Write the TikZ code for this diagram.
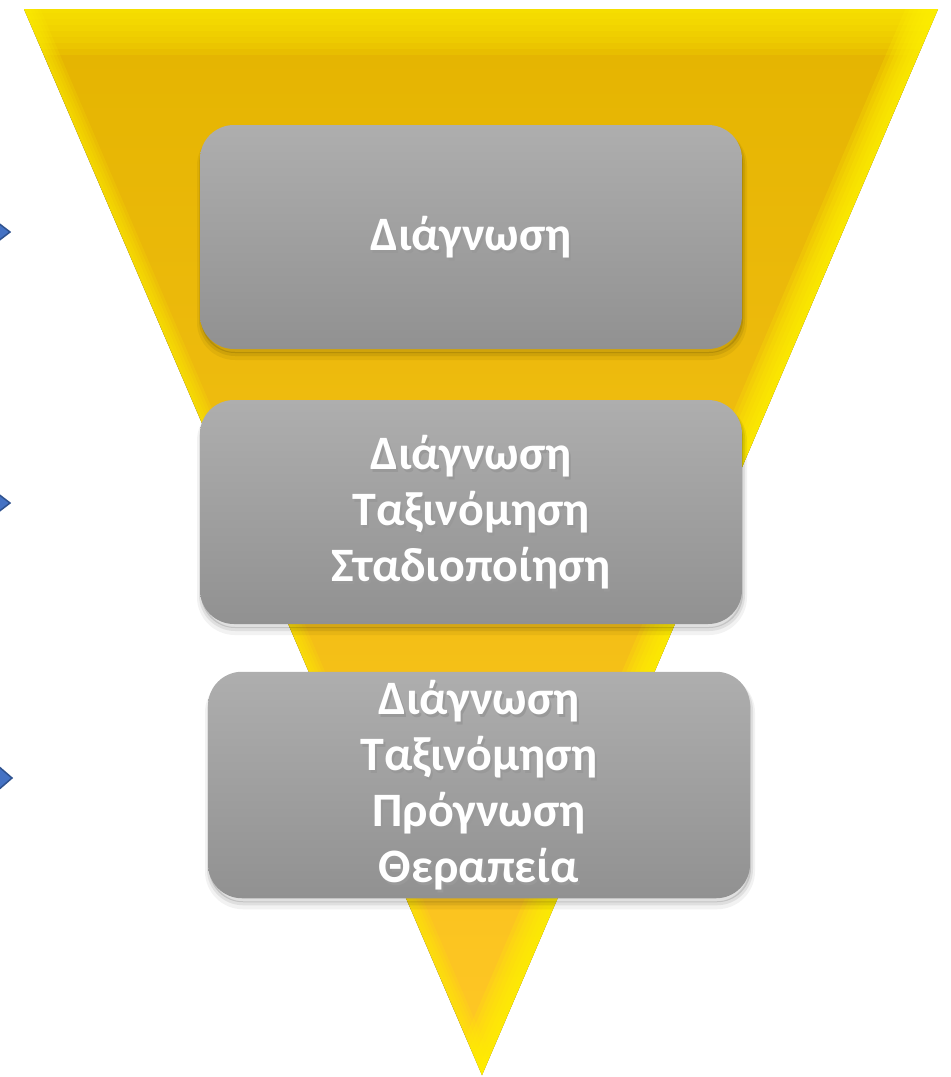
\documentclass[tikz,border=0pt]{standalone}
\usepackage{fontspec}
\newfontfamily\boxfont{Carlito}
\usepackage{tikz}
\usetikzlibrary{calc}

\definecolor{goldtop}{RGB}{228,180,0}
\definecolor{goldmid}{RGB}{247,193,0}
\definecolor{goldlow}{RGB}{255,199,38}
\definecolor{boxtop}{RGB}{174,174,174}
\definecolor{boxlow}{RGB}{145,145,145}
\definecolor{tipfill}{RGB}{68,114,196}
\definecolor{tipline}{RGB}{47,82,143}

\newcommand\boxlines[1]{\raisebox{-4pt}[\height][\depth]{%
  \rlap{\kern2pt\raisebox{-2.5pt}{\color{black!40}\begin{tabular}{@{}c@{}}#1\end{tabular}}}%
  \begin{tabular}{@{}c@{}}#1\end{tabular}}}

\begin{document}
\begin{tikzpicture}[x=1pt, y=-1pt,
    stage/.style={rounded corners=34pt, minimum width=542pt, minimum height=224pt,
      inner sep=0pt, top color=boxtop, bottom color=boxlow, text=white,
      font=\boxfont\bfseries\fontsize{48}{56}\selectfont,
      preaction={draw=black, line width=8pt, opacity=0.05, transform canvas={xshift=1pt, yshift=-7pt}},
      preaction={draw=black, line width=4pt, opacity=0.08, transform canvas={xshift=1pt, yshift=-5pt}},
      preaction={fill=black, opacity=0.12, transform canvas={xshift=1pt, yshift=-4pt}}},
    tipmark/.style={fill=tipfill, draw=tipline, line width=1.5pt, line join=miter}]
  \useasboundingbox (0,0) rectangle (951,1077);

  \coordinate (tl) at (24,9);
  \coordinate (tr) at (938,9);
  \coordinate (tip) at (482,1075);

  \fill[top color=goldtop, middle color=goldmid, bottom color=goldlow] (tl) -- (tr) -- (tip) -- cycle;
  \begin{scope}
    \clip (tl) -- (tr) -- (tip) -- cycle;
    \foreach \w in {92,80,...,8}
      \draw[yellow, opacity=0.15, line width=\w pt] (tl) -- (tr);
    \foreach \w in {60,52,...,4}
      \draw[yellow, opacity=0.2, line width=\w pt] (tr) -- (tip);
    \foreach \w in {30,24,...,6}
      \draw[yellow, opacity=0.15, line width=\w pt] (tl) -- (tip);
  \end{scope}

  \foreach \y/\t/\h in {232/10/10, 503/10/10, 778/12/13}
    \draw[tipmark] (-3,\y-\h) -- (\t,\y) -- (-3,\y+\h) -- cycle;

  \node[stage] (diag) at (471,237) {\boxlines{Διάγνωση}};
  \node[stage] (tax) at (471,512) {\boxlines{Διάγνωση\\Ταξινόμηση\\Σταδιοποίηση}};
  \node[stage] (prog) at (479,785) {\boxlines{Διάγνωση\\Ταξινόμηση\\Πρόγνωση\\Θεραπεία}};
\end{tikzpicture}
\end{document}
